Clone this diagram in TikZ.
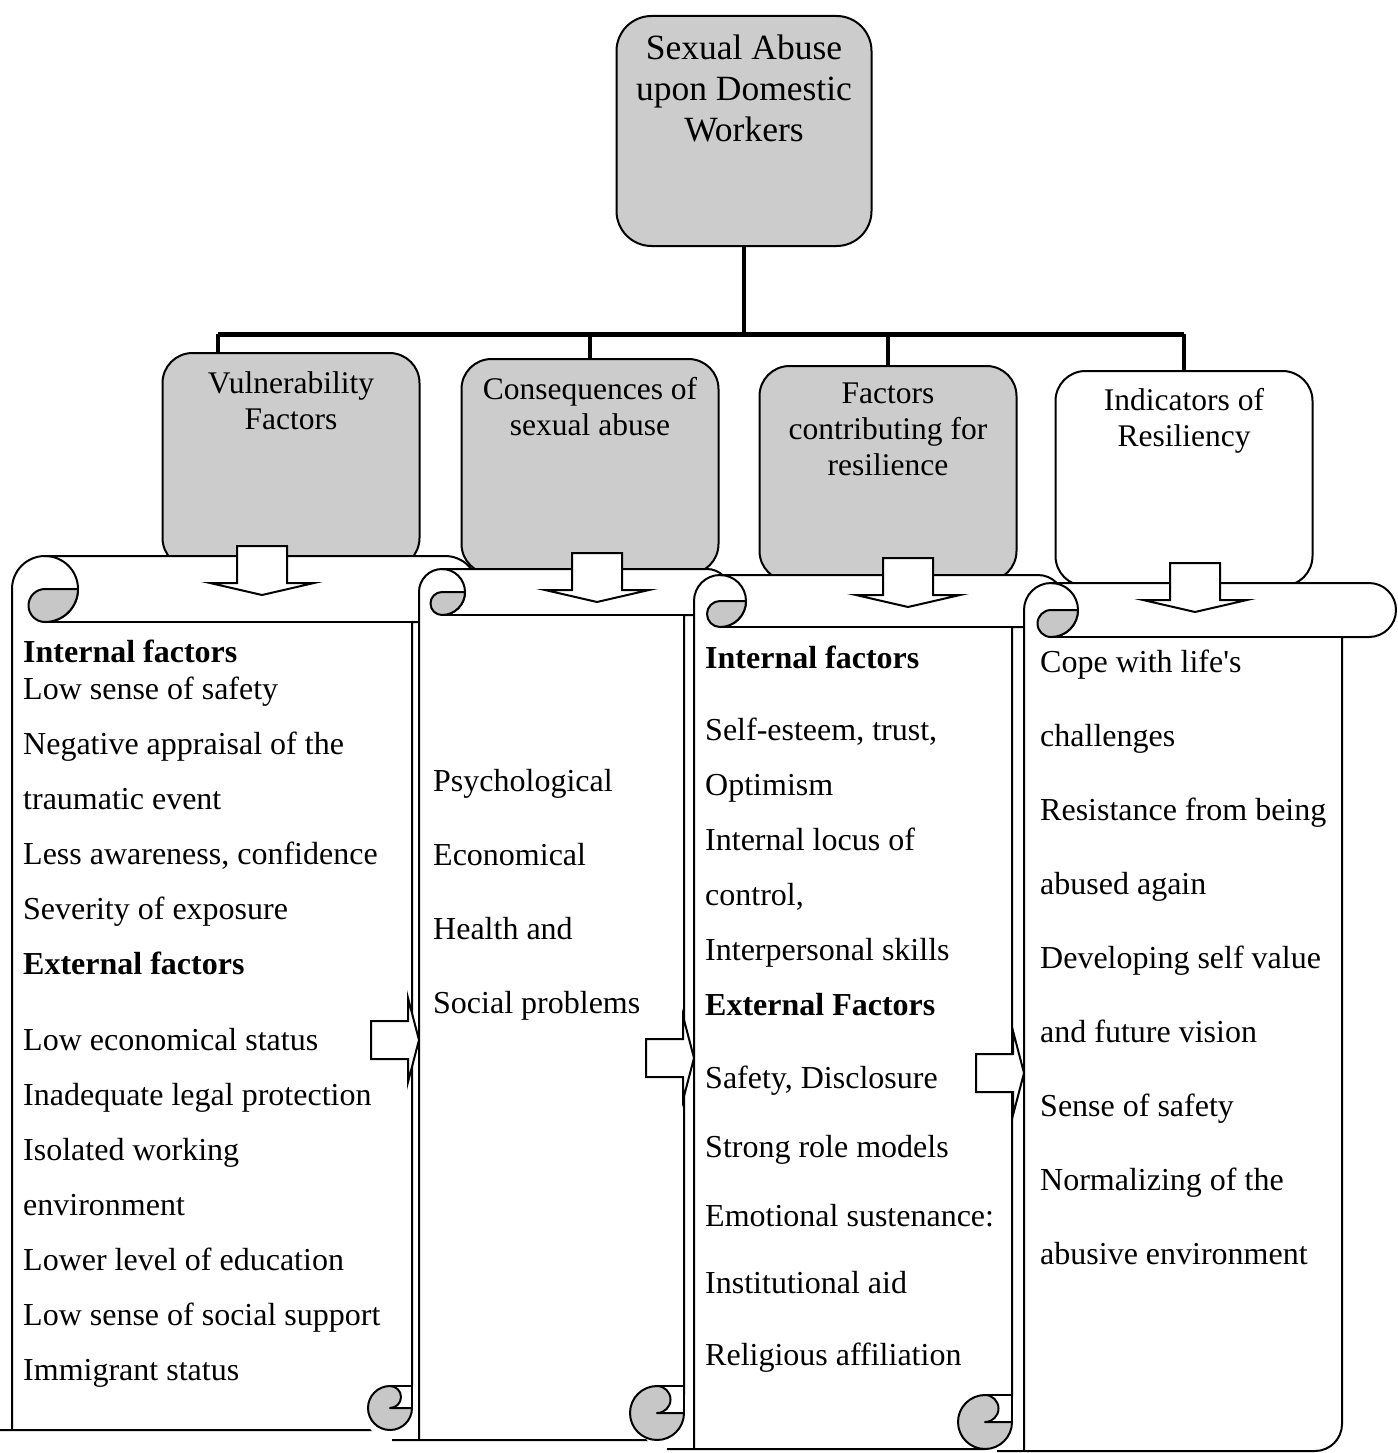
\documentclass[tikz,border=0pt]{standalone}
\usepackage{fontspec}
\setmainfont{Liberation Serif}
\usetikzlibrary{positioning}
\definecolor{boxgray}{gray}{0.80}
\definecolor{curlgray}{gray}{0.78}

% scroll: left, top, right, bottom, top curl radius, bottom curl radius
\newcommand{\scrollbody}[6]{%
  \fill[white] (#1,#4-2*#6) -- (#1,#2+#5)
    arc[start angle=180, end angle=270, radius=#5] -- (#3+#5,#2)
    arc[start angle=270, end angle=450, radius=#5] -- (#3,#2+2*#5)
    -- (#3,#4-#6) arc[start angle=0, end angle=90, radius=#6]
    -- (#1-#6,#4) arc[start angle=90, end angle=270, radius=#6] -- cycle;
  \draw[scrollline] (#1,#4) -- (#1,#2+#5)
    arc[start angle=180, end angle=270, radius=#5] -- (#3+#5,#2)
    arc[start angle=270, end angle=450, radius=#5] -- (#3,#2+2*#5)
    -- (#3,#4-#6) arc[start angle=0, end angle=90, radius=#6]
    -- (#1-#6,#4);
  \draw[scrollline] (#1+#5,#2+2*#5) -- (#3,#2+2*#5);
  \draw[scrollline] (#1+#5,#2) arc[start angle=270, end angle=450, radius=#5];
  \filldraw[scrollline, fill=curlgray] (#1+2*#5,#2+#5)
    arc[start angle=0, end angle=90, radius=#5]
    arc[start angle=90, end angle=270, radius=#5/2] -- cycle;
}
% bottom curl: right, bottom, radius
\newcommand{\scrollcurl}[3]{%
  \fill[white] (#1-#3,#2-#3) circle[radius=#3];
  \filldraw[scrollline, fill=curlgray] (#1-#3,#2-2*#3)
    arc[start angle=270, end angle=0, radius=#3] -- (#1-#3,#2-#3)
    arc[start angle=90, end angle=-90, radius=#3/2] -- cycle;
  \draw[scrollline] (#1-#3,#2-2*#3) -- (#1,#2-2*#3) -- (#1,#2-#3);
}

\begin{document}
\begin{tikzpicture}[x=1pt, y=-1pt, align=center]

\tikzstyle{topbox} = [rectangle, rounded corners=35pt, minimum width=255pt, minimum height=230pt, draw=black, line width=2pt, fill=boxgray, anchor=north]
\tikzstyle{catbox} = [rectangle, rounded corners=30pt, minimum width=257pt, minimum height=215pt, draw=black, line width=2pt, fill=boxgray, anchor=north]
\tikzstyle{toptext} = [inner sep=0pt, font=\fontsize{35.5pt}{41pt}\selectfont]
\tikzstyle{cattext} = [inner sep=0pt, font=\fontsize{31.5pt}{36pt}\selectfont]
\tikzstyle{listtext} = [inner sep=0pt, align=left, anchor=north west, font=\fontsize{32pt}{55pt}\selectfont]
\tikzstyle{widelist} = [listtext, font=\fontsize{32pt}{74pt}\selectfont]
\tikzstyle{scrollline} = [draw=black, line width=2pt, line join=round]
\tikzstyle{blockline} = [draw=black, line width=2pt, fill=white, line join=miter]
\tikzstyle{bar} = [line width=5pt]
\tikzstyle{stem} = [line width=3.5pt]
\tikzset{
  downblock/.pic={\filldraw[blockline] (-25,0) -- (25,0) -- (25,37) -- (52,37) -- (0,49) -- (-52,37) -- (-25,37) -- cycle;},
  rightblock/.pic={\filldraw[blockline] (0,0) -- (-11,-42) -- (-11,-19) -- (-48,-19) -- (-48,19) -- (-11,19) -- (-11,42) -- cycle;}
}

\useasboundingbox (0,0) rectangle (1397,1453);

\node (abuse) [topbox] at (744,15) {};
\node (abusetext) [toptext, below=20pt of abuse.north] {Sexual Abuse\\upon Domestic\\Workers};

\node (vuln) [catbox] at (291,352) {};
\node (conseq) [catbox] at (590,358) {};
\node (contrib) [catbox] at (888,365) {};
\node (indic) [catbox, fill=white] at (1184,370) {};
\node (vulntext) [cattext, below=19pt of vuln.north] {Vulnerability\\Factors};
\node (conseqtext) [cattext, below=19pt of conseq.north] {Consequences of\\sexual abuse};
\node (contribtext) [cattext, below=18pt of contrib.north] {Factors\\contributing for\\resilience};
\node (indictext) [cattext, below=18pt of indic.north] {Indicators of\\Resiliency};

\coordinate (barl) at (218,334);
\draw [stem] (abuse.south) -- (abuse.south |- barl);
\draw [bar] (barl) -- (barl -| indic.north);
\draw [stem] (barl) -- (barl |- vuln.north);
\draw [stem] (conseq.north |- barl) -- (conseq.north);
\draw [stem] (contrib.north |- barl) -- (contrib.north);
\draw [stem] (indic.north |- barl) -- (indic.north);

% scrolls
\scrollbody{12}{556}{412}{1430}{33}{22}
\scrollbody{419}{569}{684}{1440}{23}{27}
\scrollbody{694}{575}{1012}{1449}{26}{27}
\scrollbody{1024}{583}{1342}{1451}{27}{27}
\scrollcurl{412}{1430}{22}
\scrollcurl{684}{1440}{27}
\scrollcurl{1012}{1449}{27}

\pic at (262,546) {downblock};
\pic at (597,553) {downblock};
\pic at (908,558) {downblock};
\pic at (1195,563) {downblock};
\pic at (419,1040) {rightblock};
\pic at (694,1058) {rightblock};
\pic at (1024,1073) {rightblock};

\node (vulnlist) [listtext] at (23,640) {\textbf{Internal factors}\\[-18pt]
  Low sense of safety\\ Negative appraisal of the\\ traumatic event\\
  Less awareness, confidence\\ Severity of exposure\\ \textbf{External factors}\\[21pt]
  Low economical status\\ Inadequate legal protection\\ Isolated working\\
  environment\\ Lower level of education\\ Low sense of social support\\ Immigrant status};
\node (conseqlist) [widelist] at (433,769) {Psychological\\ Economical\\ Health and\\ Social problems};
\node (contriblist) [listtext] at (705,646) {\textbf{Internal factors}\\[17pt]
  Self-esteem, trust,\\ Optimism\\ Internal locus of\\ control,\\ Interpersonal skills\\
  \textbf{External Factors}\\[18pt] Safety, Disclosure\\[14pt] Strong role models\\[14pt]
  Emotional sustenance:\\[12pt] Institutional aid\\[17pt] Religious affiliation};
\node (indiclist) [widelist] at (1040,650) {Cope with life\textquotesingle s\\ challenges\\ Resistance from being\\
  abused again\\ Developing self value\\ and future vision\\ Sense of safety\\
  Normalizing of the\\ abusive environment};

\end{tikzpicture}
\end{document}
